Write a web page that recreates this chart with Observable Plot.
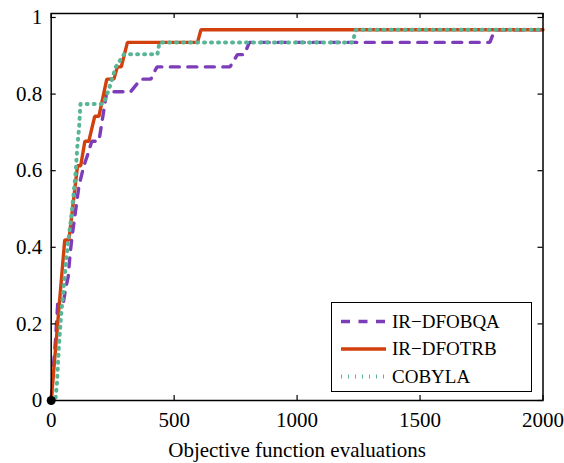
<!DOCTYPE html>
<html>
<head>
<meta charset="utf-8">
<script src="https://cdn.jsdelivr.net/npm/d3@7"></script>
<script src="https://cdn.jsdelivr.net/npm/@observablehq/plot@0.6"></script>
<style>
  html, body { margin: 0; padding: 0; background: #fff; }
  #wrap { position: relative; width: 564px; height: 463px; font-family: "Liberation Serif", serif; }
  #wrap svg text { font-family: "Liberation Serif", serif !important; }
  #legend { position: absolute; left: 331px; top: 302px; width: 199px; height: 88px; border: 1.5px solid #000; background: #fff; }
</style>
</head>
<body>
<div id="wrap"><div id="legend"></div></div>
<script>
// ---- data ----
const seriesNames = ["IR\u2212DFOBQA", "IR\u2212DFOTRB", "COBYLA"];
const seriesColors = ["#7d3cb8", "#d2400e", "#58b596"];

// IR-DFOBQA
const bqaX = [0, 10, 18, 24, 27, 50, 58, 69, 76, 83, 113, 133, 150, 165, 194, 226, 323, 364, 405, 430, 727, 757, 785, 806, 1784, 1804, 2000];
const bqaY = [0, 0.097, 0.161, 0.226, 0.258, 0.258, 0.290, 0.323, 0.376, 0.419, 0.561, 0.613, 0.645, 0.677, 0.677, 0.806, 0.806, 0.839, 0.839, 0.871, 0.871, 0.903, 0.903, 0.935, 0.935, 0.968, 0.968];

// IR-DFOTRB
const trbX = [0, 55, 72, 107, 120, 137, 153, 177, 194, 226, 255, 269, 285, 310, 595, 609, 2000];
const trbY = [0, 0.419, 0.419, 0.613, 0.613, 0.677, 0.677, 0.742, 0.742, 0.839, 0.839, 0.871, 0.871, 0.935, 0.935, 0.968, 0.968];

// COBYLA
const cobX = [0, 17, 24, 31, 40, 50, 60, 70, 80, 90, 100, 106, 113, 119, 212, 235, 262, 296, 432, 440, 1225, 1240, 2000];
const cobY = [0, 0, 0.05, 0.14, 0.22, 0.29, 0.36, 0.42, 0.47, 0.53, 0.60, 0.661, 0.710, 0.774, 0.774, 0.813, 0.870, 0.904, 0.904, 0.935, 0.935, 0.968, 0.968];

const xTicks = [0, 500, 1000, 1500, 2000];
const yTicks = [0, 0.2, 0.4, 0.6, 0.8, 1];
const xLabel = "Objective function evaluations";

// ---- build ----
const xMax = 2000, yMax = 1.0104;
const toRows = (xs, ys, name) => xs.map((x, i) => ({x, y: ys[i], name}));
const bqa = toRows(bqaX, bqaY, seriesNames[0]);
const trb = toRows(trbX, trbY, seriesNames[1]);
const cob = toRows(cobX, cobY, seriesNames[2]);

const W = 564, H = 463, mL = 50.7, mR = 21.5, mT = 13, mB = 63;
const tickPx = 5;
const yTickLen = yMax * tickPx / (H - mT - mB);
const xTickLen = xMax * tickPx / (W - mL - mR);
const FONT = "Liberation Serif";

const chart = Plot.plot({
  width: W, height: H,
  marginLeft: mL, marginRight: mR, marginTop: mT, marginBottom: mB,
  style: {fontFamily: FONT, fontSize: "21px", color: "#000", background: "#fff"},
  x: {domain: [0, xMax]},
  y: {domain: [0, yMax]},
  marks: [
    Plot.line(bqa, {x: "x", y: "y", stroke: seriesColors[0], strokeWidth: 3.4, strokeDasharray: "9,8.5", strokeLinejoin: "miter"}),
    Plot.line(trb, {x: "x", y: "y", stroke: seriesColors[1], strokeWidth: 3.4, strokeLinejoin: "miter"}),
    Plot.line(cob, {x: "x", y: "y", stroke: seriesColors[2], strokeWidth: 4, strokeDasharray: "1,6"}),
    Plot.dot(trb.slice(0, 1), {x: "x", y: "y", r: 4.5, fill: "#000", stroke: "none"}),
    // inward ticks
    Plot.ruleX(xTicks, {x: d => d, y1: 0, y2: yTickLen, stroke: "#000", strokeWidth: 1.2}),
    Plot.ruleX(xTicks, {x: d => d, y1: yMax - yTickLen, y2: yMax, stroke: "#000", strokeWidth: 1.2}),
    Plot.ruleY(yTicks, {y: d => d, x1: 0, x2: xTickLen, stroke: "#000", strokeWidth: 1.2}),
    Plot.ruleY(yTicks, {y: d => d, x1: xMax - xTickLen, x2: xMax, stroke: "#000", strokeWidth: 1.2}),
    Plot.frame({stroke: "#000", strokeWidth: 1.5}),
    Plot.axisX(xTicks, {anchor: "bottom", tickSize: 0, tickPadding: 12, fontSize: 21, fontFamily: FONT, label: null, tickFormat: d => String(d)}),
    Plot.axisY(yTicks, {anchor: "left", tickSize: 0, tickPadding: 9, fontSize: 21, fontFamily: FONT, label: null, tickFormat: d => String(d)}),
    Plot.text([xLabel], {text: d => d, frameAnchor: "bottom", dy: 50, lineAnchor: "middle", fontSize: 21, fontFamily: FONT, fill: "#000"})
  ]
});
document.getElementById("wrap").insertBefore(chart, document.getElementById("legend"));

// ---- legend overlay ----
const lg = d3.select("#legend").append("svg").attr("width", 199).attr("height", 88)
  .style("display", "block");
const dashes = ["9,8.5", null, "1,6"];
const widths = [3.4, 3.4, 4];
seriesNames.forEach((name, i) => {
  const cy = 18.5 + i * 27.5;
  lg.append("line").attr("x1", 9).attr("x2", 54).attr("y1", cy).attr("y2", cy)
    .attr("stroke", seriesColors[i]).attr("stroke-width", widths[i])
    .attr("stroke-dasharray", dashes[i]);
  lg.append("text").attr("x", 60).attr("y", cy).attr("dy", "0.34em")
    .style("font-family", "'Liberation Serif', serif").attr("font-size", 19)
    .attr("fill", "#000").text(name);
});
</script>
</body>
</html>
